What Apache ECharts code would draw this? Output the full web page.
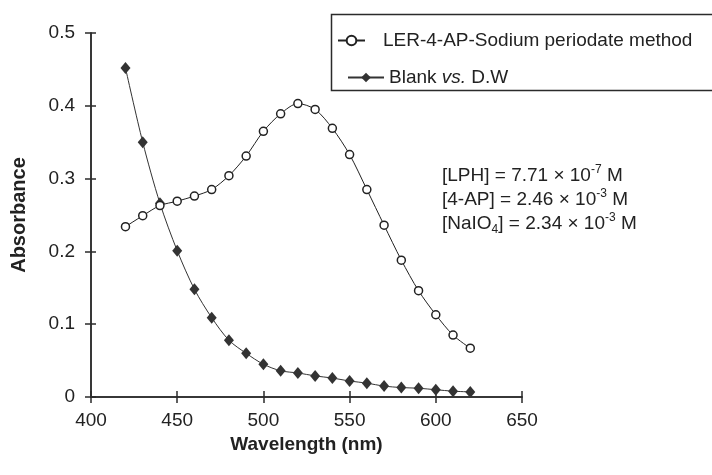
<!DOCTYPE html>
<html><head><meta charset="utf-8">
<script src="https://cdn.jsdelivr.net/npm/echarts@6/dist/echarts.min.js"></script>
<style>html,body{margin:0;padding:0;background:#fff}#c{width:712px;height:475px}</style>
</head><body><div id="c"></div>
<script>
const wavelengths = [420,430,440,450,460,470,480,490,500,510,520,530,540,550,560,570,580,590,600,610,620];
const lerValues = [0.234,0.249,0.263,0.269,0.276,0.285,0.304,0.331,0.365,0.389,0.403,0.395,0.369,0.333,0.285,0.236,0.188,0.146,0.113,0.085,0.067];
const blankValues = [0.452,0.350,0.266,0.201,0.148,0.109,0.078,0.060,0.045,0.036,0.033,0.029,0.026,0.022,0.019,0.015,0.013,0.012,0.010,0.008,0.007];
const seriesNames = ['LER-4-AP-Sodium periodate method','Blank vs. D.W'];
const xTicks = {min:400, max:650, interval:50};
const yTicks = {min:0, max:0.5, interval:0.1};

const FONT = '"Liberation Sans", Arial, sans-serif';
const ink = '#2b2b2b';
const chart = echarts.init(document.getElementById('c'));
const pair = (xs, ys) => xs.map((x,i)=>[x, ys[i]]);
const axisCommon = {
  type:'value', splitLine:{show:false},
  axisLine:{show:true, lineStyle:{color:ink, width:1.5}},
};
const X = '\u00a0\u00d7\u00a0';
chart.setOption({
  animation:false,
  backgroundColor:'#fff',
  grid:{left:91, right:190, top:33, bottom:78},
  xAxis:[
    Object.assign({}, axisCommon, {min:xTicks.min, max:xTicks.max, interval:xTicks.interval,
      axisTick:{show:true, inside:false, length:6, lineStyle:{color:ink, width:1.5}},
      axisLabel:{margin:14, fontFamily:FONT, fontSize:19, color:'#222'},
      name:'Wavelength (nm)', nameLocation:'middle', nameGap:30,
      nameTextStyle:{fontFamily:FONT, fontSize:19, fontWeight:'bold', color:'#222'}}),
    Object.assign({}, axisCommon, {position:'bottom', min:xTicks.min, max:xTicks.max, interval:xTicks.interval,
      axisTick:{show:true, inside:true, length:6, lineStyle:{color:ink, width:1.5}},
      axisLabel:{show:false}})
  ],
  yAxis:[
    Object.assign({}, axisCommon, {min:yTicks.min, max:yTicks.max, interval:yTicks.interval,
      axisTick:{show:true, inside:false, length:6, lineStyle:{color:ink, width:1.5}},
      axisLabel:{margin:16, fontFamily:FONT, fontSize:19, color:'#222'},
      name:'Absorbance', nameLocation:'middle', nameGap:62,
      nameTextStyle:{fontFamily:FONT, fontSize:20, fontWeight:'bold', color:'#222'}}),
    Object.assign({}, axisCommon, {position:'left', min:yTicks.min, max:yTicks.max, interval:yTicks.interval,
      axisTick:{show:true, inside:true, length:5, lineStyle:{color:ink, width:1.5}},
      axisLabel:{show:false}})
  ],
  legend:[
    {data:[seriesNames[0]], left:332, top:26, itemWidth:27, itemHeight:12,
     textStyle:{fontFamily:FONT, fontSize:19, color:'#222', padding:[0,0,0,13]}},
    {data:[seriesNames[1]], left:342, top:63, itemWidth:36, itemHeight:12,
     formatter:()=>'{n|Blank }{i|vs.}{n| D.W}',
     textStyle:{fontFamily:FONT, fontSize:19, color:'#222',
       rich:{n:{fontFamily:FONT, fontSize:19, color:'#222'}, i:{fontFamily:FONT, fontSize:19, fontStyle:'italic', color:'#222'}}}}
  ],
  graphic:[
    {type:'rect', left:329, top:12, shape:{width:420, height:76}, style:{fill:'none', stroke:ink, lineWidth:1.5}, z:-1},
    {type:'text', left:442, top:164, style:{
      text:'{a|[LPH] = 7.71'+X+'10}{s|-7}{a| M}\n{a|[4-AP] = 2.46'+X+'10}{s|-3}{a| M}\n{a|[NaIO}{b|4}{a|] = 2.34'+X+'10}{s|-3}{a| M}',
      fill:'#222', font:'19px '+FONT,
      rich:{
        a:{fontFamily:FONT, fontSize:19, lineHeight:24, fill:'#222'},
        s:{fontFamily:FONT, fontSize:12, verticalAlign:'top', lineHeight:24, fill:'#222'},
        b:{fontFamily:FONT, fontSize:12, verticalAlign:'bottom', lineHeight:22, fill:'#222'}
      }}}
  ],
  series:[
    {name:seriesNames[0], type:'line', data:pair(wavelengths, lerValues), smooth:0.3,
     symbol:'circle', symbolSize:8,
     lineStyle:{color:'#222', width:1},
     itemStyle:{color:'#fff', borderColor:'#222', borderWidth:1.5}, z:3},
    {name:seriesNames[1], type:'line', data:pair(wavelengths, blankValues), smooth:0.3,
     symbol:'diamond', symbolSize:[10,12],
     lineStyle:{color:'#333', width:1},
     itemStyle:{color:'#333', borderColor:'#333', borderWidth:0}, z:2}
  ]
});
</script></body></html>
